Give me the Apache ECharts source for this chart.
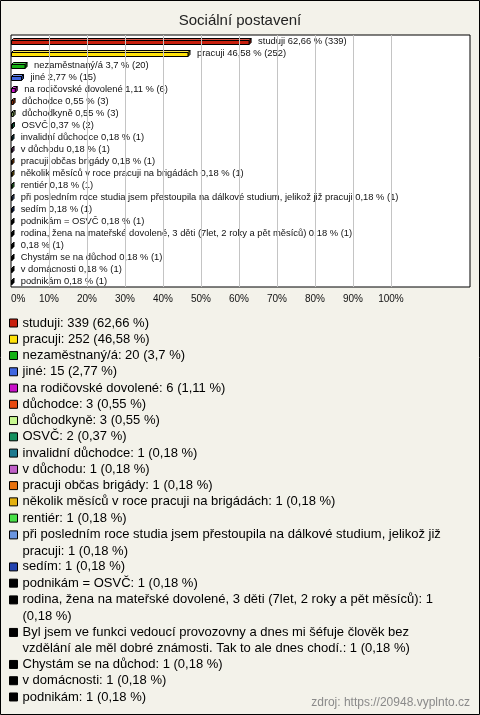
<!DOCTYPE html>
<html>
<head>
<meta charset="utf-8">
<style>
html,body{margin:0;padding:0;background:#F3F2EA;}
#chart{width:480px;height:715px;}
</style>
<script src="https://cdn.jsdelivr.net/npm/echarts@6/dist/echarts.min.js"></script>
</head>
<body>
<div id="chart"></div>
<script>
// ---- data ----
const categories = [
  "studuji", "pracuji", "nezaměstnaný/á", "jiné", "na rodičovské dovolené",
  "důchodce", "důchodkyně", "OSVČ", "invalidní důchodce", "v důchodu",
  "pracuji občas brigády", "několik měsíců v roce pracuji na brigádách", "rentiér",
  "při posledním roce studia jsem přestoupila na dálkové studium, jelikož již pracuji",
  "sedím", "podnikám = OSVČ",
  "rodina, žena na mateřské dovolené, 3 děti (7let, 2 roky a pět měsíců)",
  "Byl jsem ve funkci vedoucí provozovny a dnes mi šéfuje člověk bez vzdělání ale měl dobré známosti. Tak to ale dnes chodí.",
  "Chystám se na důchod", "v domácnosti", "podnikám"
];
const barLabels = categories.map((c, i) => i === 17 ? "" : c);
const counts = [339, 252, 20, 15, 6, 3, 3, 2, 1, 1, 1, 1, 1, 1, 1, 1, 1, 1, 1, 1, 1];
const percents = [62.66, 46.58, 3.7, 2.77, 1.11, 0.55, 0.55, 0.37, 0.18, 0.18, 0.18, 0.18, 0.18, 0.18, 0.18, 0.18, 0.18, 0.18, 0.18, 0.18, 0.18];
const colors = [
  "#C8200E", "#FFE20A", "#14B014", "#3F66E0", "#C811C8",
  "#E84A10", "#C8F890", "#148F5E", "#1E7A8F", "#C060C8",
  "#E8720F", "#E3B00F", "#48E048", "#6A95E0", "#2243B0",
  "#000000", "#000000", "#000000", "#000000", "#000000", "#000000"
];
const gridValues = [10, 20, 30, 40, 50, 60, 70, 80, 90, 100];
const titleText = "Sociální postavení";
const sourceText = "zdroj: https://20948.vyplnto.cz";

// ---- layout ----
const FONT = '"Liberation Sans", Arial, sans-serif';
const legendWraps = { 13: 'jelikož již ', 16: 'měsíců): 1 ', 17: 'člověk bez ' };
const legendGroups = [[0, 13, 1], [13, 14, 2], [14, 16, 1], [16, 17, 2], [17, 18, 2], [18, 21, 1]];
const lineH = 16.26;
const firstCenter = 323;

const fmt = v => String(v).replace('.', ',');

function shade(hex, f) {
  const n = parseInt(hex.slice(1), 16);
  let r = (n >> 16) & 255, g = (n >> 8) & 255, b = n & 255;
  if (f > 0) { r += (255 - r) * f; g += (255 - g) * f; b += (255 - b) * f; }
  else { r *= (1 + f); g *= (1 + f); b *= (1 + f); }
  return 'rgb(' + Math.round(r) + ',' + Math.round(g) + ',' + Math.round(b) + ')';
}

function renderBar(params, api) {
  const i = params.seriesIndex;
  const v = api.value(0), ci = api.value(1);
  const p0 = api.coord([0, ci]);
  const p1 = api.coord([v, ci]);
  const x0 = Math.round(p0[0]) + 0.5, x1 = Math.max(p1[0], x0 + 0.5);
  const yc = p0[1];
  const d = 2, h = 4;
  const yt = Math.round(yc - 1.5) + 0.5, yb = yt + h;
  const col = colors[i];
  const stroke = { stroke: '#000', lineWidth: 1 };
  const label = (barLabels[i] + ' ' + fmt(percents[i]) + ' % (' + counts[i] + ')').trim();
  return {
    type: 'group',
    children: [
      { type: 'polygon', shape: { points: [[x1, yt], [x1 + d, yt - d], [x1 + d, yb - d], [x1, yb]] },
        style: Object.assign({ fill: shade(col, -0.35) }, stroke) },
      { type: 'polygon', shape: { points: [[x0, yt], [x0 + d, yt - d], [x1 + d, yt - d], [x1, yt]] },
        style: Object.assign({ fill: shade(col, 0.25) }, stroke) },
      { type: 'rect', shape: { x: x0, y: yt, width: x1 - x0, height: h },
        style: Object.assign({ fill: col }, stroke) },
      { type: 'text', style: { x: p1[0] + 9, y: yc + 0.5, text: label, fill: '#111',
          fontSize: 9.4, fontFamily: FONT, verticalAlign: 'middle', align: 'left' } }
    ]
  };
}

const series = categories.map((name, i) => ({
  name: name,
  type: 'custom',
  renderItem: renderBar,
  color: colors[i],
  itemStyle: { color: colors[i] },
  data: [[percents[i], i]],
  encode: { x: 0, y: 1 },
  silent: true,
  clip: false,
  z: 3
}));
series.push({
  name: '_grid', type: 'line', data: [], silent: true, z: 1,
  markLine: {
    silent: true, symbol: ['none', 'none'], label: { show: false },
    lineStyle: { color: '#C4C4C4', width: 1, type: 'solid' },
    emphasis: { disabled: true },
    animation: false,
    data: gridValues.map(v => ({ xAxis: v }))
  }
});

let lineIdx = 0;
const twoLineIcon = 'path://M0,0 M0,' + (lineH / 2 - 4) + ' L8,' + (lineH / 2 - 4) + ' L8,' + (lineH / 2 + 4) + ' L0,' + (lineH / 2 + 4) + ' Z M8,' + (2 * lineH);
const legends = legendGroups.map(([s, e, lines]) => {
  const center = firstCenter + lineIdx * lineH;
  lineIdx += (e - s) * lines;
  const two = lines === 2;
  return {
    show: true,
    orient: 'vertical',
    left: 9,
    top: center - lineH / 2,
    padding: 0,
    itemGap: 0,
    itemWidth: 8,
    itemHeight: two ? 2 * lineH : 8,
    icon: two ? twoLineIcon : 'rect',
    selectedMode: false,
    itemStyle: { borderColor: '#000', borderWidth: 1 },
    textStyle: {
      fontSize: 13, fontFamily: FONT, color: '#000', lineHeight: lineH
    },
    formatter: name => {
      const k = categories.indexOf(name);
      let t = name + ': ' + counts[k] + ' (' + fmt(percents[k]) + ' %)';
      const w = legendWraps[k];
      if (w) t = t.replace(w, w.trimEnd() + '\n');
      return t;
    },
    data: categories.slice(s, e)
  };
});

const chart = echarts.init(document.getElementById('chart'), null, { renderer: 'canvas' });
chart.setOption({
  animation: false,
  backgroundColor: '#F3F2EA',
  title: [
    { text: titleText, left: 'center', top: 13, padding: 0,
      textStyle: { fontSize: 15, fontWeight: 'normal', fontFamily: FONT, color: '#222' } },
    { text: sourceText, right: 10, top: 697, padding: 0,
      textStyle: { fontSize: 12, fontWeight: 'normal', fontFamily: FONT, color: '#8A8A8A' } }
  ],
  legend: legends,
  grid: {
    left: 11, right: 10, top: 35, height: 252,
    show: true, backgroundColor: '#FFFFFF', borderColor: '#000', borderWidth: 1,
    containLabel: false
  },
  xAxis: {
    type: 'value', min: 0, max: 120.8, interval: 10,
    axisLine: { show: false }, axisTick: { show: false },
    splitLine: { show: false },
    axisLabel: {
      margin: 7, fontSize: 10, fontFamily: FONT, color: '#111',
      showMaxLabel: false, alignMinLabel: 'left',
      formatter: v => (v <= 100 ? v + '%' : '')
    }
  },
  yAxis: {
    type: 'category', data: categories, inverse: true,
    axisLine: { show: false }, axisTick: { show: false }, axisLabel: { show: false },
    splitLine: { show: false }
  },
  graphic: [
    { type: 'rect', shape: { x: 0.5, y: 0.5, width: 479, height: 714 },
      style: { fill: 'none', stroke: '#000', lineWidth: 1 }, silent: true, z: 100 }
  ],
  series: series
});
</script>
</body>
</html>
